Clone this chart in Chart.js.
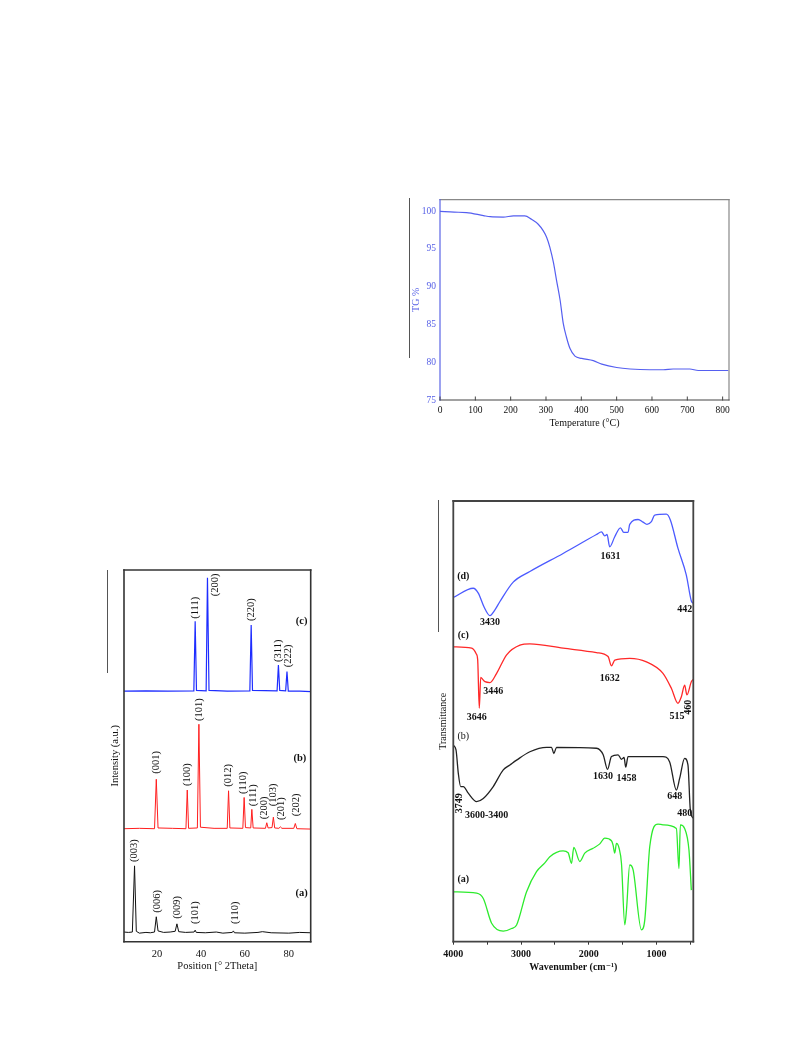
<!DOCTYPE html>
<html>
<head>
<meta charset="utf-8">
<script src="https://cdn.jsdelivr.net/npm/chart.js@4.4.1/dist/chart.umd.min.js"></script>
<style>
body { margin: 0; background: #fff; width: 793px; height: 1057px; position: relative; overflow: hidden; }
.box { position: absolute; }
.mark { position: absolute; width: 1px; background: #555; }
</style>
</head>
<body>
<div class="mark" style="left:409px;top:198px;height:160px"></div>
<div class="mark" style="left:107px;top:570px;height:103px"></div>
<div class="mark" style="left:438px;top:500px;height:132px"></div>

<div class="box" style="left:400px;top:190px;width:340px;height:245px"><canvas id="tgChart"></canvas></div>
<div class="box" style="left:95px;top:560px;width:225px;height:425px"><canvas id="xrdChart"></canvas></div>
<div class="box" style="left:425px;top:495px;width:280px;height:490px"><canvas id="ftirChart"></canvas></div>

<script>
// TG curve
var tgTemp  = [0, 40, 75, 123, 142, 179, 208, 240, 259, 278, 292, 302, 311, 321, 330, 340, 349, 358, 368, 382, 401, 434, 458, 500, 538, 594, 632, 660, 707, 731, 816];
var tgValue = [99.95, 99.85, 99.8, 99.4, 99.25, 99.2, 99.35, 99.35, 98.9, 98.25, 97.4, 96.5, 95.2, 93.2, 90.8, 88.2, 85.1, 83.3, 81.8, 80.8, 80.5, 80.2, 79.75, 79.3, 79.1, 79.0, 79.0, 79.1, 79.1, 78.9, 78.9];
var tgXTicks = [0, 100, 200, 300, 400, 500, 600, 700, 800];
var tgYTicks = [75, 80, 85, 90, 95, 100];

// XRD patterns (offset stacked, a.u.)
var xrdAx = [5, 7, 8.8, 9.8, 10.6, 12, 15, 17, 18.9, 19.7, 20.5, 23, 26, 28.3, 29.1, 29.9, 33, 36.9, 37.4, 37.9, 42, 47, 50, 54.3, 54.8, 55.3, 60, 66, 68, 72, 80, 85, 90];
var xrdAy = [2.6, 2.5, 2.6, 20.4, 2.8, 2.3, 2.5, 2.4, 2.6, 6.7, 2.9, 2.5, 2.6, 2.8, 4.8, 2.7, 2.5, 2.6, 3.1, 2.5, 2.4, 2.6, 2.3, 2.5, 2.9, 2.4, 2.3, 2.5, 2.7, 2.4, 2.3, 2.5, 2.4];
var xrdBx = [5, 12, 18.9, 19.7, 20.5, 27, 33.2, 33.8, 34.4, 38.4, 39.1, 39.8, 46, 52, 52.6, 53.2, 59.1, 59.7, 60.3, 62.7, 63.2, 63.8, 69.4, 70, 70.6, 72.4, 73, 73.6, 75.5, 76.2, 76.9, 82.3, 83, 83.7, 90];
var xrdBy = [30.4, 30.5, 30.4, 43.7, 30.6, 30.5, 30.4, 40.8, 30.5, 30.6, 58.5, 30.8, 30.5, 30.5, 40.6, 30.6, 30.5, 38.8, 30.7, 30.6, 35.6, 30.6, 30.5, 32.0, 30.6, 30.7, 33.5, 30.6, 30.5, 30.9, 30.5, 30.5, 31.8, 30.4, 30.3];
var xrdCx = [5, 15, 25, 36.8, 37.4, 38.0, 42.4, 43.0, 43.7, 52, 62.3, 62.9, 63.5, 74.7, 75.3, 75.9, 78.6, 79.2, 79.8, 85, 90];
var xrdCy = [67.4, 67.5, 67.4, 67.5, 86.2, 67.6, 67.5, 97.9, 67.6, 67.4, 67.5, 85.2, 67.6, 67.5, 74.4, 67.6, 67.5, 72.7, 67.4, 67.4, 67.3];
var xrdXTicks = [20, 40, 60, 80];
var xrdNotes = [
  ['(111)', 37.4, 86.6, 'up'], ['(200)', 46.6, 92.7, 'up'], ['(220)', 62.9, 86.0, 'up'],
  ['(311)', 75.1, 75.0, 'up'], ['(222)', 80.0, 73.6, 'up'], ['(c)', 85.9, 86.1, 'bold'],
  ['(001)', 19.9, 44.9, 'up'], ['(100)', 33.6, 41.6, 'up'], ['(101)', 39.2, 59.1, 'up'],
  ['(012)', 52.5, 41.4, 'up'], ['(110)', 59.4, 39.5, 'up'], ['(111)', 63.9, 36.2, 'up'],
  ['(200)', 68.9, 32.7, 'up'], ['(103)', 73.0, 36.2, 'up'], ['(201)', 76.8, 32.5, 'up'],
  ['(202)', 83.6, 33.5, 'up'], ['(b)', 85.1, 49.4, 'bold'],
  ['(003)', 9.8, 21.2, 'up'], ['(006)', 20.0, 7.5, 'up'], ['(009)', 29.1, 5.9, 'up'],
  ['(101)', 37.4, 4.5, 'up'], ['(110)', 55.6, 4.5, 'up'], ['(a)', 85.9, 13.1, 'bold']
];

// FTIR spectra (offset stacked transmittance)
var irDx = [4000, 3705, 3631, 3547, 3459, 3385, 3311, 3115, 2869, 2378, 1885, 1811, 1763, 1729, 1690, 1615, 1531, 1482, 1419, 1394, 1271, 1198, 1139, 1074, 1025, 853, 794, 682, 558, 484, 458];
var irDy = [78.1, 80.2, 79.1, 76.0, 74.0, 75.3, 77.2, 81.6, 84.0, 88.1, 92.4, 93.0, 92.1, 92.4, 89.6, 91.9, 93.9, 92.9, 92.9, 94.7, 95.8, 95.2, 94.7, 95.3, 96.8, 97.0, 95.7, 89.3, 83.2, 77.3, 76.8];
var irCx = [4000, 3729, 3660, 3640, 3616, 3595, 3581, 3532, 3459, 3360, 3212, 3016, 2869, 2378, 1885, 1714, 1664, 1615, 1394, 1147, 903, 779, 682, 631, 583, 549, 484, 458];
var irCy = [66.9, 66.6, 65.3, 64.0, 53.0, 60.0, 59.8, 59.0, 58.8, 60.9, 65.1, 67.3, 67.6, 66.6, 65.6, 64.7, 62.6, 63.9, 64.3, 63.5, 60.9, 57.5, 54.1, 55.6, 58.2, 56.0, 59.0, 59.5];
var irBx = [4000, 3960, 3926, 3891, 3852, 3779, 3655, 3557, 3410, 3262, 3164, 3065, 2869, 2622, 2549, 2515, 2475, 1885, 1786, 1722, 1664, 1566, 1516, 1478, 1453, 1419, 903, 804, 705, 656, 583, 534, 499, 458];
var irBy = [44.6, 43.5, 38.2, 35.2, 35.2, 33.7, 31.8, 32.5, 35.2, 39.0, 40.1, 41.2, 43.1, 44.1, 44.1, 42.7, 44.1, 43.9, 42.4, 39.1, 42.0, 42.4, 41.4, 41.8, 39.6, 42.0, 42.0, 40.8, 34.4, 37.1, 41.6, 40.1, 29.9, 28.0];
var irAx = [4000, 3655, 3557, 3434, 3262, 3139, 3065, 2919, 2771, 2648, 2574, 2378, 2304, 2254, 2220, 2131, 2058, 1935, 1836, 1763, 1664, 1640, 1615, 1590, 1551, 1516, 1467, 1442, 1394, 1344, 1221, 1172, 1098, 976, 903, 705, 667, 646, 583, 519, 484];
var irAy = [11.3, 11.0, 9.8, 4.2, 2.4, 3.0, 3.8, 11.3, 15.9, 17.9, 19.3, 20.6, 20.2, 17.8, 21.4, 18.2, 20.1, 21.2, 22.2, 23.5, 22.9, 21.9, 20.1, 22.3, 21.2, 17.8, 3.8, 7.2, 17.4, 16.3, 2.7, 4.9, 21.6, 26.7, 26.5, 25.7, 16.6, 26.5, 25.7, 20.8, 11.7];
var irTicks = [4000, 3500, 3000, 2500, 2000, 1500, 1000, 500];
var irNotes = [
  ['(d)', 3853, 82.8], ['3430', 3459, 72.4], ['1631', 1678, 87.4], ['442', 583, 75.3],
  ['(c)', 3853, 69.6], ['3446', 3410, 56.7], ['3646', 3655, 50.9], ['1632', 1689, 59.8],
  ['515', 695, 51.2], ['460', 530, 53.2, 'rot'], ['(b)', 3853, 46.5, 'plain'],
  ['1630', 1788, 37.4], ['1458', 1443, 37.1], ['3749', 3912, 31.4, 'rot'],
  ['3600-3400', 3507, 28.7], ['648', 730, 32.9], ['480', 583, 29.1], ['(a)', 3853, 14.2]
];

Chart.defaults.font.family = "'Liberation Serif', 'DejaVu Serif', serif";
Chart.defaults.color = '#111';
Chart.defaults.animation = false;

function pts(xs, ys) {
  return xs.map(function(x, i) { return {x: x, y: ys[i]}; });
}

function fixTicks(list) {
  return function(scale) { scale.ticks = list.map(function(v) { return {value: v}; }); };
}

// frame round the plot, short inward ticks, text notes placed in data units
function frameAndNotes(sides, width, notes, size, inTicks) {
  return {
    id: 'frameAndNotes',
    afterDraw: function(chart) {
      var a = chart.chartArea, ctx = chart.ctx;
      var xs = chart.scales.x, ys = chart.scales.y;
      ctx.save();
      ctx.lineWidth = width;
      ctx.lineCap = 'square';
      [[a.left, a.top, a.right, a.top, sides[0]],
       [a.right, a.top, a.right, a.bottom, sides[1]],
       [a.left, a.bottom, a.right, a.bottom, sides[2]],
       [a.left, a.top, a.left, a.bottom, sides[3]]].forEach(function(l) {
        ctx.strokeStyle = l[4];
        ctx.beginPath();
        ctx.moveTo(l[0], l[1]);
        ctx.lineTo(l[2], l[3]);
        ctx.stroke();
      });
      (inTicks || []).forEach(function(v) {
        var px = xs.getPixelForValue(v);
        ctx.strokeStyle = sides[2];
        ctx.lineWidth = 1;
        ctx.beginPath();
        ctx.moveTo(px, a.bottom);
        ctx.lineTo(px, a.bottom - 3);
        ctx.stroke();
      });
      ctx.fillStyle = '#111';
      ctx.textBaseline = 'middle';
      notes.forEach(function(n) {
        var px = xs.getPixelForValue(n[1]);
        var py = ys.getPixelForValue(n[2]);
        var kind = n[3] || '';
        var weight = (kind === 'up' || kind === 'plain') ? 'normal' : 'bold';
        ctx.font = weight + ' ' + size + "px 'Liberation Serif', serif";
        if (kind === 'up' || kind === 'rot') {
          ctx.save();
          ctx.translate(px, py);
          ctx.rotate(-Math.PI / 2);
          ctx.textAlign = kind === 'up' ? 'left' : 'center';
          ctx.fillText(n[0], kind === 'up' ? 1 : 0, 0);
          ctx.restore();
        } else {
          ctx.textAlign = 'center';
          ctx.fillText(n[0], px, py);
        }
      });
      ctx.restore();
    }
  };
}

// TG chart
new Chart(document.getElementById('tgChart'), {
  type: 'line',
  data: {
    datasets: [{
      data: pts(tgTemp, tgValue),
      borderColor: 'rgb(85,95,240)',
      borderWidth: 1.2,
      pointRadius: 0,
      cubicInterpolationMode: 'monotone'
    }]
  },
  options: {
    responsive: true,
    maintainAspectRatio: false,
    layout: { padding: { top: 9, right: 11, left: 0, bottom: 0 } },
    plugins: { legend: { display: false }, tooltip: { enabled: false } },
    scales: {
      x: {
        type: 'linear', min: 0, max: 818,
        afterBuildTicks: fixTicks(tgXTicks),
        afterFit: function(s) { s.height = 35; },
        grid: { display: false, drawTicks: false },
        border: { display: false },
        ticks: { autoSkip: false, maxRotation: 0, padding: 5, color: '#111', font: { size: 9.5 } },
        title: { display: true, text: 'Temperature (°C)', color: '#111', font: { size: 10 }, padding: { top: 0, bottom: 6 } }
      },
      y: {
        min: 75, max: 101.5,
        afterBuildTicks: fixTicks(tgYTicks),
        afterFit: function(s) { s.width = 40; },
        grid: { display: false, drawTicks: false },
        border: { display: false },
        ticks: { padding: 4, color: 'rgb(85,95,230)', font: { size: 9.5 } },
        title: { display: true, text: 'TG %', color: 'rgb(85,95,230)', font: { size: 10 }, padding: { top: 10, bottom: 0 } }
      }
    }
  },
  plugins: [frameAndNotes(['#888', '#888', '#444', 'rgb(90,100,230)'], 1.2, [], 10, tgXTicks)]
});

// XRD chart
new Chart(document.getElementById('xrdChart'), {
  type: 'line',
  data: {
    datasets: [
      { data: pts(xrdAx, xrdAy), borderColor: '#111', borderWidth: 1, pointRadius: 0 },
      { data: pts(xrdBx, xrdBy), borderColor: 'rgb(255,30,30)', borderWidth: 1, pointRadius: 0 },
      { data: pts(xrdCx, xrdCy), borderColor: 'rgb(30,45,255)', borderWidth: 1.2, pointRadius: 0 }
    ]
  },
  options: {
    responsive: true,
    maintainAspectRatio: false,
    layout: { padding: { top: 10, right: 9.3, left: 0, bottom: 0 } },
    plugins: { legend: { display: false }, tooltip: { enabled: false } },
    scales: {
      x: {
        type: 'linear', min: 5, max: 90,
        afterBuildTicks: fixTicks(xrdXTicks),
        afterFit: function(s) { s.height = 43.3; },
        grid: { display: false, drawTicks: false },
        border: { display: false },
        ticks: { autoSkip: false, maxRotation: 0, padding: 6, color: '#111', font: { size: 10.5 } },
        title: { display: true, text: 'Position [° 2Theta]', color: '#111', font: { size: 10.5 }, padding: { top: 0, bottom: 12 } }
      },
      y: {
        min: 0, max: 100,
        afterFit: function(s) { s.width = 29; },
        grid: { display: false, drawTicks: false },
        border: { display: false },
        ticks: { display: false },
        title: { display: true, text: 'Intensity (a.u.)', color: '#111', font: { size: 10.5 }, padding: { top: 14, bottom: 0 } }
      }
    }
  },
  plugins: [frameAndNotes(['#333', '#333', '#333', '#333'], 1.6, xrdNotes, 10.5)]
});

// FTIR chart
new Chart(document.getElementById('ftirChart'), {
  type: 'line',
  data: {
    datasets: [
      { data: pts(irAx, irAy), borderColor: 'rgb(45,235,45)', borderWidth: 1.3, pointRadius: 0, cubicInterpolationMode: 'monotone' },
      { data: pts(irBx, irBy), borderColor: '#222', borderWidth: 1.3, pointRadius: 0, cubicInterpolationMode: 'monotone' },
      { data: pts(irCx, irCy), borderColor: 'rgb(255,40,40)', borderWidth: 1.3, pointRadius: 0, cubicInterpolationMode: 'monotone' },
      { data: pts(irDx, irDy), borderColor: 'rgb(75,90,255)', borderWidth: 1.3, pointRadius: 0, cubicInterpolationMode: 'monotone' }
    ]
  },
  options: {
    responsive: true,
    maintainAspectRatio: false,
    layout: { padding: { top: 6, right: 11.7, left: 0, bottom: 0 } },
    plugins: { legend: { display: false }, tooltip: { enabled: false } },
    scales: {
      x: {
        type: 'linear', min: 455, max: 4000, reverse: true,
        afterBuildTicks: fixTicks(irTicks),
        afterFit: function(s) { s.height = 43.3; },
        grid: { display: true, drawOnChartArea: false, tickLength: 3, color: '#333' },
        border: { display: false },
        ticks: {
          autoSkip: false, maxRotation: 0, padding: 4, color: '#111',
          font: { size: 10, weight: 'bold' },
          callback: function(v) { return v % 1000 === 0 ? v : ''; }
        },
        title: { display: true, text: 'Wavenumber (cm⁻¹)', color: '#111', font: { size: 10, weight: 'bold' }, padding: { top: 0, bottom: 12 } }
      },
      y: {
        min: 0, max: 100,
        afterFit: function(s) { s.width = 28.3; },
        grid: { display: false, drawTicks: false },
        border: { display: false },
        ticks: { display: false },
        title: { display: true, text: 'Transmittance', color: '#111', font: { size: 10 }, padding: { top: 12, bottom: 0 } }
      }
    }
  },
  plugins: [frameAndNotes(['#444', '#444', '#444', '#444'], 1.8, irNotes, 10)]
});
</script>
</body>
</html>
